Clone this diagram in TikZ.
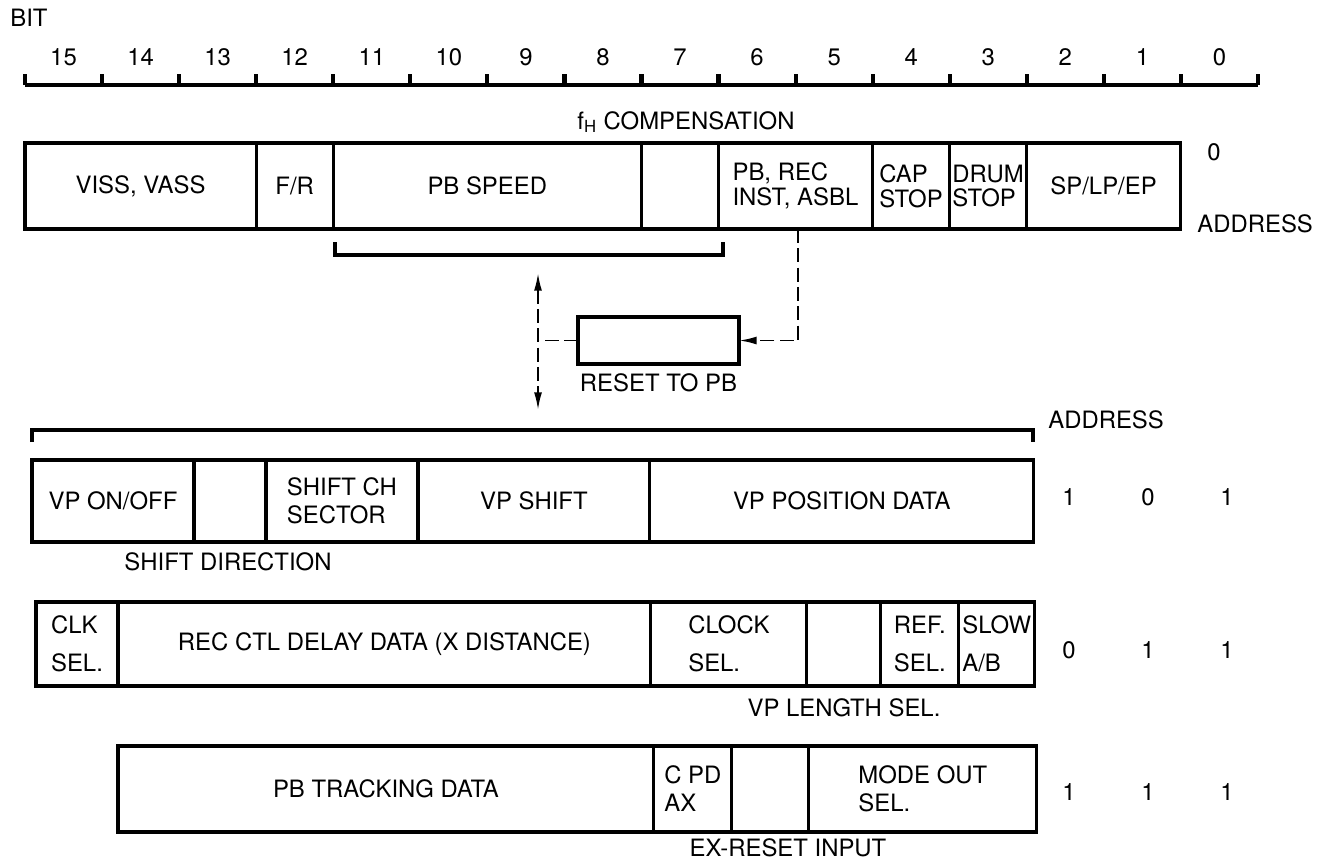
\documentclass[tikz,border=0pt]{standalone}
\usepackage{fontspec}
\setmainfont{TeX Gyre Heros}
\usetikzlibrary{positioning,arrows.meta}

\begin{document}
\begin{tikzpicture}[x=0.02cm, y=-0.02cm,
  every node/.style={font=\fontsize{13.6}{16}\selectfont},
  field/.style={draw, line width=1.8pt, inner sep=0pt, outer sep=0pt, align=left},
  toprow/.style={field, minimum height=1.72cm},
  rowa/.style={field, minimum height=1.64cm},
  rowb/.style={field, minimum height=1.68cm},
  rowc/.style={field, minimum height=1.72cm},
  bracket/.style={line width=1.8pt},
  ruler/.style={line width=2.4pt},
  dashline/.style={line width=1.1pt, dash pattern=on 8pt off 3pt},
  headed/.style={-{Latex[length=10pt,width=4.5pt]}},
  lbl/.style={inner sep=0pt}]
  \useasboundingbox (0,0) rectangle (1321,863);

  \node[lbl, anchor=west] (bitlbl) at (10,18) {BIT};
  \draw[ruler] (25,85) -- (1258,85);
  \foreach \k in {0,...,16}
  \draw[ruler] ({25+77.0625*\k},85) -- ({25+77.0625*\k},74);
  \foreach \b in {0,...,15}
  \node[lbl] (bit\b) at ({25+77.0625*(15.5-\b)},57) {\b};

  \node[toprow, minimum width=4.624cm, anchor=north west] (viss) at (25,143) {VISS, VASS};
  \node[toprow, minimum width=1.541cm, right=0pt of viss] (fr) {F/R};
  \node[toprow, minimum width=6.165cm, right=0pt of fr] (pbspeed) {PB SPEED};
  \node[toprow, minimum width=1.541cm, right=0pt of pbspeed] (fhbit) {};
  \node[toprow, minimum width=3.082cm, right=0pt of fhbit] (pbrec) {PB, REC\\[-2pt]INST, ASBL};
  \node[toprow, minimum width=1.541cm, right=0pt of pbrec] (capstop) {CAP\\[-2pt]STOP};
  \node[toprow, minimum width=1.541cm, right=0pt of capstop] (drumstop) {DRUM\\[-2pt]STOP};
  \node[toprow, minimum width=3.082cm, right=0pt of drumstop] (splpep) {SP/LP/EP};
  \node[lbl] (fhcomp) at (686,122) {f\textsubscript{H} COMPENSATION};
  \node[lbl] (addr0) at (1214,152) {0};
  \node[lbl, anchor=west] (addrlbl) at (1197,224) {ADDRESS};

  \draw[bracket] (335,242) |- (723,255) -- (723,242);

  \node[field, minimum width=3.22cm, minimum height=0.94cm] (reset) at (658.5,340.5) {};
  \node[lbl, below=5.5pt of reset] (resetlbl) {RESET TO PB};
  \coordinate (uptip) at (538,273);
  \coordinate (dntip) at (538,410);
  \draw[dashline, {Latex[length=10pt,width=4.5pt]}-{Latex[length=10pt,width=4.5pt]}] (uptip) -- (dntip);
  \draw[dashline] (reset.west) -- (reset.west -| uptip);
  \draw[dashline, headed] ([xshift=1.5pt]pbrec.south) |- (reset.east);

  \draw[bracket] (32,442) |- (1033,430) -- (1033,442);
  \node[lbl, anchor=west] (addrlbl2) at (1048,420) {ADDRESS};

  \node[rowa, minimum width=3.24cm, anchor=north west] (vponoff) at (32,460) {VP ON/OFF};
  \node[rowa, minimum width=1.44cm, right=0pt of vponoff] (shiftdir) {};
  \node[rowa, minimum width=3.04cm, right=0pt of shiftdir] (shiftch) {SHIFT CH\\SECTOR};
  \node[rowa, minimum width=4.64cm, right=0pt of shiftch] (vpshift) {VP SHIFT};
  \node[rowa, minimum width=7.68cm, right=0pt of vpshift] (vppos) {VP POSITION DATA};
  \node[lbl] (shiftdirlbl) at (228,562) {SHIFT DIRECTION};
  \foreach \d [count=\i] in {1,0,1}
  \node[lbl] (ra\i) at ({1069+79*(\i-1)},497) {\d};

  \node[rowb, minimum width=1.64cm, anchor=north west] (clksel) at (36,602) {CLK\\[5.6pt]SEL.};
  \node[rowb, minimum width=10.66cm, right=0pt of clksel] (recctl) {REC CTL DELAY DATA (X DISTANCE)};
  \node[rowb, minimum width=3.12cm, right=0pt of recctl] (clocksel) {CLOCK\\[5.6pt]SEL.};
  \node[rowb, minimum width=1.48cm, right=0pt of clocksel] (vplen) {};
  \node[rowb, minimum width=1.56cm, right=0pt of vplen] (refsel) {REF.\\[5.6pt]SEL.};
  \node[rowb, minimum width=1.52cm, right=0pt of refsel] (slowab) {SLOW\\[5.6pt]A/B};
  \node[lbl] (vplenlbl) at (844,708) {VP LENGTH SEL.};
  \foreach \d [count=\i] in {0,1,1}
  \node[lbl] (rb\i) at ({1069+79*(\i-1)},650) {\d};

  \node[rowc, minimum width=10.72cm, anchor=north west] (pbtrack) at (118,746) {PB TRACKING DATA};
  \node[rowc, minimum width=1.56cm, right=0pt of pbtrack] (cpdax) {C PD\\AX};
  \node[rowc, minimum width=1.54cm, right=0pt of cpdax] (exreset) {};
  \node[rowc, minimum width=4.56cm, right=0pt of exreset] (modeout) {MODE OUT\\SEL.};
  \node[lbl] (exresetlbl) at (788,848) {EX-RESET INPUT};
  \foreach \d [count=\i] in {1,1,1}
  \node[lbl] (rc\i) at ({1069+79*(\i-1)},792) {\d};
\end{tikzpicture}
\end{document}
